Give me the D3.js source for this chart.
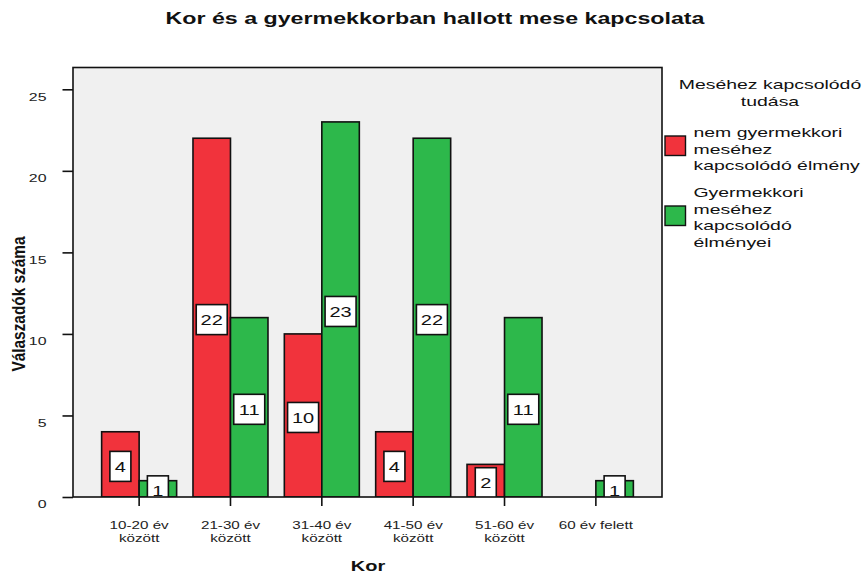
<!DOCTYPE html>
<html>
<head>
<meta charset="utf-8">
<script src="https://cdn.jsdelivr.net/npm/d3@7/dist/d3.min.js"></script>
<style>
  html, body { margin: 0; padding: 0; background: #fff; }
  svg { display: block; font-family: "Liberation Sans", Arial, Helvetica, sans-serif; }
</style>
</head>
<body>
<svg id="chart" width="864" height="574"></svg>
<script>
// Age groups (x axis)
const categories = ["10-20 év között", "21-30 év között", "31-40 év között",
                    "41-50 év között", "51-60 év között", "60 év felett"];
// Series: type of tale-related knowledge
const seriesNames = ["nem gyermekkori meséhez kapcsolódó élmény",
                     "Gyermekkori meséhez kapcsolódó élményei"];
const seriesLegendLines = [["nem gyermekkori", "meséhez", "kapcsolódó élmény"],
                           ["Gyermekkori", "meséhez", "kapcsolódó", "élményei"]];
const nonChildhoodValues = [4, 22, 10, 4, 2, 0];
const childhoodValues    = [1, 11, 23, 22, 11, 1];
const yTicks = [0, 5, 10, 15, 20, 25];

const colors = ["#f1333c", "#2db84b"];
const titleText = "Kor és a gyermekkorban hallott mese kapcsolata";
const xTitle = "Kor";
const yTitle = "Válaszadók száma";
const legendTitle = ["Meséhez kapcsolódó", "tudása"];

const svg = d3.select("#chart");
const plot = { left: 73, right: 662, top: 67.5, bottom: 497 };

// widen the glyphs of a text selection by a horizontal factor
function widen(sel, factor) {
  sel.each(function() {
    const len = this.getComputedTextLength();
    d3.select(this).attr("textLength", len * factor).attr("lengthAdjust", "spacingAndGlyphs");
  });
  return sel;
}

const x0 = d3.scaleBand().domain(categories)
  .range([plot.left, plot.right]).paddingInner(0.179).paddingOuter(0.3135);
const x1 = d3.scaleBand().domain(seriesNames).range([0, x0.bandwidth()]);
const y = d3.scaleLinear().domain([0, 25]).range([plot.bottom, 89.3]);

const rows = categories.map((c, i) => ({
  cat: c,
  vals: [nonChildhoodValues[i], childhoodValues[i]]
}));

// plot background
svg.append("rect")
  .attr("x", plot.left).attr("y", plot.top)
  .attr("width", plot.right - plot.left).attr("height", plot.bottom - plot.top)
  .attr("fill", "#f0f0f0");

svg.append("defs").append("clipPath").attr("id", "plotClip")
  .append("rect")
  .attr("x", plot.left).attr("y", plot.top)
  .attr("width", plot.right - plot.left).attr("height", plot.bottom - plot.top);

const gBars = svg.append("g").attr("clip-path", "url(#plotClip)");

// bars
rows.forEach(r => {
  r.vals.forEach((v, si) => {
    if (v <= 0) return;
    gBars.append("rect")
      .attr("x", x0(r.cat) + x1(seriesNames[si]))
      .attr("y", y(v))
      .attr("width", x1.bandwidth())
      .attr("height", y(0) - y(v))
      .attr("fill", colors[si])
      .attr("stroke", "#111")
      .attr("stroke-width", 1.6);
  });
});

// value labels in white boxes
rows.forEach(r => {
  r.vals.forEach((v, si) => {
    if (v <= 0) return;
    const cx = x0(r.cat) + x1(seriesNames[si]) + x1.bandwidth() / 2;
    const cy = (y(v) + y(0)) / 2 + 2;
    const label = String(v);
    const w = label.length === 1 ? 21 : 31;
    const h = 30;
    gBars.append("rect")
      .attr("x", cx - w / 2).attr("y", cy - h / 2)
      .attr("width", w).attr("height", h)
      .attr("fill", "#fff").attr("stroke", "#111").attr("stroke-width", 1.6);
    widen(gBars.append("text")
      .attr("x", cx).attr("y", cy + 5.5)
      .attr("text-anchor", "middle")
      .attr("font-size", 14.5)
      .attr("fill", "#111")
      .text(label), 1.38);
  });
});

// plot frame
svg.append("rect")
  .attr("x", plot.left).attr("y", plot.top)
  .attr("width", plot.right - plot.left).attr("height", plot.bottom - plot.top)
  .attr("fill", "none").attr("stroke", "#111").attr("stroke-width", 1.6);

// y axis
const yAxis = svg.append("g").attr("transform", `translate(${plot.left},0)`)
  .call(d3.axisLeft(y).tickValues(yTicks).tickSize(10.5).tickPadding(16).tickFormat(d3.format("d")));
yAxis.select(".domain").remove();
yAxis.selectAll(".tick line").attr("stroke", "#111").attr("stroke-width", 1.6);
widen(yAxis.selectAll(".tick text")
  .attr("font-size", 11.5)
  .attr("fill", "#222").attr("dy", "0.95em")
  .style("font-family", "inherit"), 1.38);

// x axis
const xAxis = svg.append("g").attr("transform", `translate(0,${plot.bottom})`)
  .call(d3.axisBottom(x0).tickSize(9).tickFormat(""));
xAxis.select(".domain").remove();
xAxis.selectAll(".tick line").attr("stroke", "#111").attr("stroke-width", 1.6);
xAxis.selectAll(".tick").each(function(d) {
  const lines = d.replace(" között", "\nközött").split("\n");
  const g = d3.select(this);
  lines.forEach((ln, i) => {
    widen(g.append("text")
      .attr("x", 0).attr("y", 31.5 + i * 13)
      .attr("text-anchor", "middle").attr("font-size", 11)
      .attr("fill", "#222").text(ln), 1.38);
  });
});

// titles
widen(svg.append("text")
  .attr("x", 435).attr("y", 24)
  .attr("text-anchor", "middle").attr("font-weight", "bold")
  .attr("font-size", 16.7)
  .attr("fill", "#111").text(titleText), 1.39);

widen(svg.append("text")
  .attr("x", 368).attr("y", 571)
  .attr("text-anchor", "middle").attr("font-weight", "bold")
  .attr("font-size", 15)
  .attr("fill", "#111").text(xTitle), 1.33);

svg.append("text")
  .attr("transform", "translate(24.5,304) rotate(-90)")
  .attr("text-anchor", "middle").attr("font-weight", "bold")
  .attr("font-size", 18)
  .attr("textLength", 135).attr("lengthAdjust", "spacingAndGlyphs")
  .attr("fill", "#111").text(yTitle);

// legend
const lg = svg.append("g");
legendTitle.forEach((ln, i) => {
  widen(lg.append("text")
    .attr("x", 770).attr("y", 89 + i * 16.7)
    .attr("text-anchor", "middle").attr("font-size", 13.3)
    .attr("fill", "#111").text(ln), 1.46);
});
const legendItemTop = [137, 197];
const swatchTop = [136, 206];
seriesNames.forEach((s, i) => {
  lg.append("rect")
    .attr("x", 665).attr("y", swatchTop[i])
    .attr("width", 20.5).attr("height", 19.5)
    .attr("fill", colors[i]).attr("stroke", "#111").attr("stroke-width", 1.4);
  seriesLegendLines[i].forEach((ln, j) => {
    widen(lg.append("text")
      .attr("x", 693.5).attr("y", legendItemTop[i] + j * 16.7)
      .attr("font-size", 13.3)
      .attr("fill", "#111").text(ln), 1.46);
  });
});
</script>
</body>
</html>
